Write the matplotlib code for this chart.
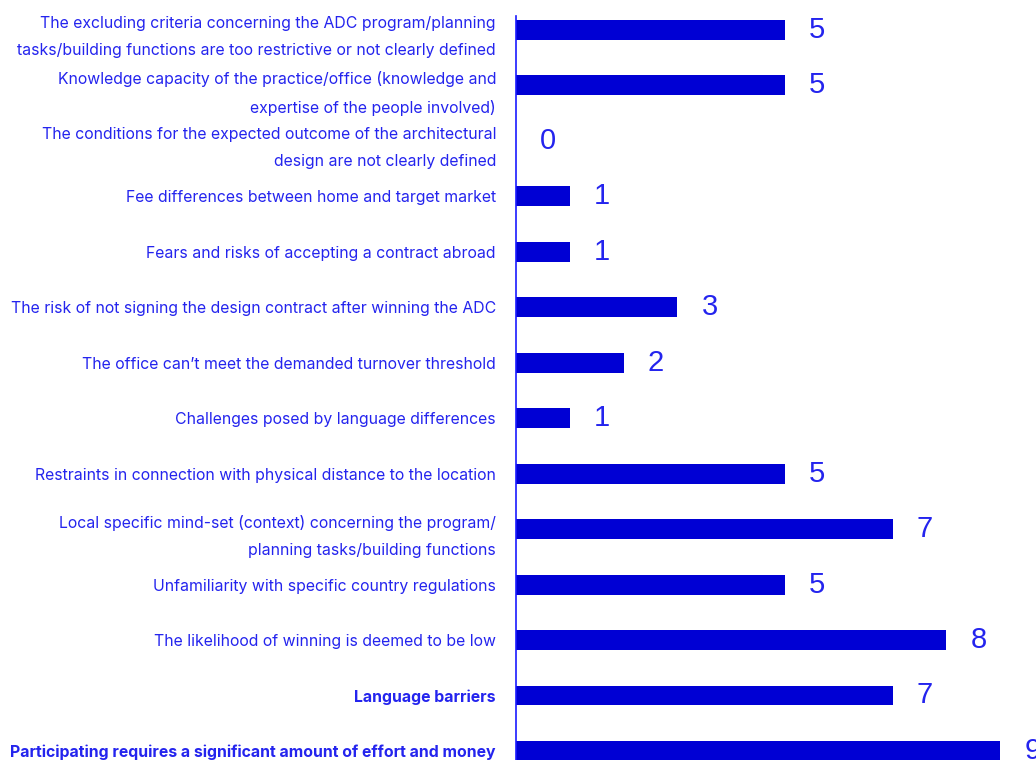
import matplotlib
matplotlib.use("Agg")
import matplotlib.pyplot as plt

BAR_COLOR = "#0000d4"
TEXT_COLOR = "#2424ee"

categories = [
    "The excluding criteria concerning the ADC program/planning\ntasks/building functions are too restrictive or not clearly defined",
    "Knowledge capacity of the practice/office (knowledge and\nexpertise of the people involved)",
    "The conditions for the expected outcome of the architectural\ndesign are not clearly defined",
    "Fee differences between home and target market",
    "Fears and risks of accepting a contract abroad",
    "The risk of not signing the design contract after winning the ADC",
    "The office can\u2019t meet the demanded turnover threshold",
    "Challenges posed by language differences",
    "Restraints in connection with physical distance to the location",
    "Local specific mind-set (context) concerning the program/\nplanning tasks/building functions",
    "Unfamiliarity with specific country regulations",
    "The likelihood of winning is deemed to be low",
    "Language barriers",
    "Participating requires a significant amount of effort and money",
]
values = [5, 5, 0, 1, 1, 3, 2, 1, 5, 7, 5, 8, 7, 9]
bold_labels = {"Language barriers",
               "Participating requires a significant amount of effort and money"}


def main() -> None:
    fig = plt.figure(figsize=(10.36, 7.6), dpi=100)
    ax = fig.add_axes([516 / 1036, 0.0, 1 - 516 / 1036, 744 / 760])

    y = list(range(len(values)))
    ax.barh(y, values, height=0.36, color=BAR_COLOR, clip_on=False)

    for yi, v in zip(y, values):
        ax.text(v + 0.45, yi, str(v), va="center", ha="left",
                fontsize=21, color=TEXT_COLOR, family="Liberation Sans",
                clip_on=False)

    ax.set_xlim(0, 520 / 53.8)
    ax.set_ylim(13.163, -0.252)
    ax.set_yticks(y)
    ax.set_yticklabels(categories, fontsize=11.4, color=TEXT_COLOR,
                       family="Inter", linespacing=1.97)
    for lbl in ax.get_yticklabels():
        if lbl.get_text() in bold_labels:
            lbl.set_fontweight("bold")
    ax.tick_params(axis="y", length=0, pad=14.4)
    ax.set_xticks([])

    for side in ("top", "right", "bottom"):
        ax.spines[side].set_visible(False)
    ax.spines["left"].set_color("#1a1aff")
    ax.spines["left"].set_linewidth(1.2)

    fig.savefig("out.png", dpi=100)
    plt.close(fig)


if __name__ == "__main__":
    main()
